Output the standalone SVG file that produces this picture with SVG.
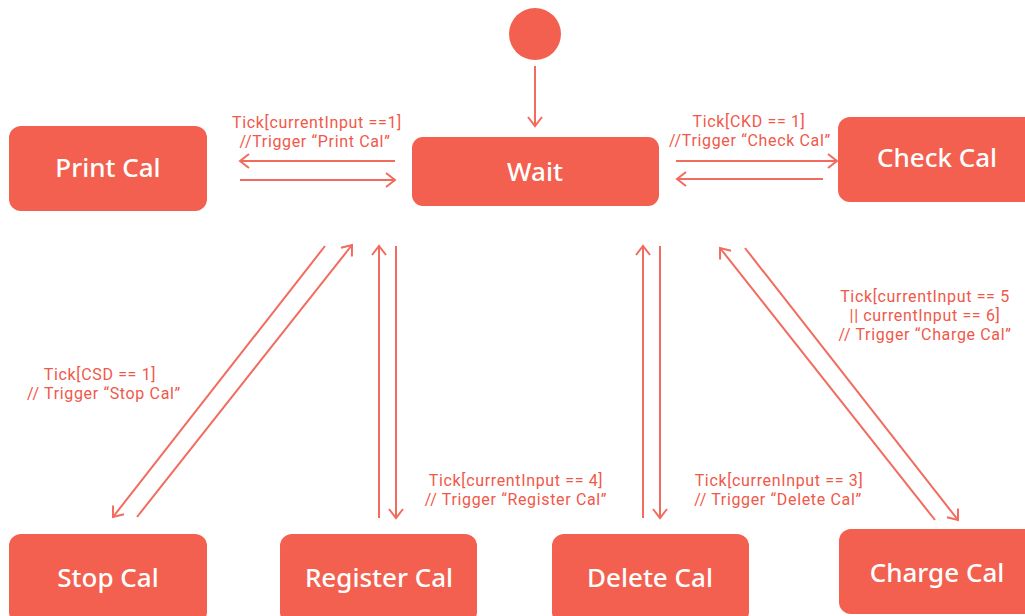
<svg xmlns="http://www.w3.org/2000/svg" width="1025" height="616" viewBox="0 0 1025 616">
<style>
.node{fill:#F3604F}
.nt{font-family:"Noto Sans","Liberation Sans",sans-serif;font-size:26px;fill:#ffffff;text-anchor:middle;font-weight:500}
.lbl{font-family:Roboto,"Noto Sans",sans-serif;font-size:16px;letter-spacing:0.65px;fill:#F0584A;text-anchor:middle}
.c{stroke:#F26B5F;stroke-width:2;fill:none;marker-end:url(#ah)}
</style>
<defs>
<marker id="ah" viewBox="-11 -8 13 16" refX="0" refY="0" markerWidth="13" markerHeight="16" markerUnits="userSpaceOnUse" orient="auto">
<path d="M-9,-7 L0,0 L-9,7" fill="none" stroke="#F26B5F" stroke-width="2"/>
</marker>
</defs>
<rect width="1025" height="616" fill="#ffffff"/>
<g id="start"><circle cx="535" cy="34" r="26" class="node"/></g>
<g id="wait"><rect x="412" y="137" width="247" height="69" rx="11" class="node"/><text x="535" y="181" class="nt">Wait</text></g>
<g id="print"><rect x="9" y="126" width="198" height="85" rx="12" class="node"/><text x="108" y="177" class="nt">Print Cal</text></g>
<g id="check"><rect x="838" y="117" width="198" height="85" rx="12" class="node"/><text x="937" y="167" class="nt">Check Cal</text></g>
<g id="stop"><rect x="9" y="534" width="198" height="90" rx="12" class="node"/><text x="108" y="587" class="nt">Stop Cal</text></g>
<g id="register"><rect x="280" y="534" width="197" height="90" rx="12" class="node"/><text x="379" y="587" class="nt">Register Cal</text></g>
<g id="delete"><rect x="552" y="534" width="197" height="90" rx="12" class="node"/><text x="650" y="587" class="nt">Delete Cal</text></g>
<g id="charge"><rect x="839" y="529" width="198" height="85" rx="12" class="node"/><text x="937" y="582" class="nt">Charge Cal</text></g>
<g id="connectors">
<line x1="535" y1="66" x2="535" y2="126" class="c"/>
<line x1="395" y1="161" x2="240" y2="161" class="c"/>
<line x1="240" y1="180" x2="395" y2="180" class="c"/>
<line x1="676" y1="161" x2="837" y2="161" class="c"/>
<line x1="823" y1="179" x2="677" y2="179" class="c"/>
<line x1="325" y1="246" x2="113" y2="517" class="c"/>
<line x1="137" y1="517" x2="352" y2="245" class="c"/>
<line x1="379" y1="518" x2="379" y2="246" class="c"/>
<line x1="396" y1="246" x2="396" y2="518" class="c"/>
<line x1="643" y1="518" x2="643" y2="246" class="c"/>
<line x1="660" y1="246" x2="660" y2="518" class="c"/>
<line x1="935" y1="520" x2="720" y2="248" class="c"/>
<line x1="745" y1="248" x2="958" y2="520" class="c"/>
</g>
<g id="labels">
<text class="lbl"><tspan x="317" y="128">Tick[currentInput ==1]</tspan><tspan x="315" y="147">//Trigger “Print Cal”</tspan></text>
<text class="lbl"><tspan x="749" y="127">Tick[CKD == 1]</tspan><tspan x="750" y="146">//Trigger “Check Cal”</tspan></text>
<text class="lbl"><tspan x="925" y="302">Tick[currentInput == 5</tspan><tspan x="925" y="321">|| currentInput == 6]</tspan><tspan x="925" y="340">// Trigger “Charge Cal”</tspan></text>
<text class="lbl"><tspan x="100" y="380">Tick[CSD == 1]</tspan><tspan x="104" y="399">// Trigger “Stop Cal”</tspan></text>
<text class="lbl"><tspan x="516" y="486">Tick[currentInput == 4]</tspan><tspan x="516" y="505">// Trigger “Register Cal”</tspan></text>
<text class="lbl"><tspan x="779" y="486">Tick[currenInput == 3]</tspan><tspan x="778" y="505">// Trigger “Delete Cal”</tspan></text>
</g>
</svg>
